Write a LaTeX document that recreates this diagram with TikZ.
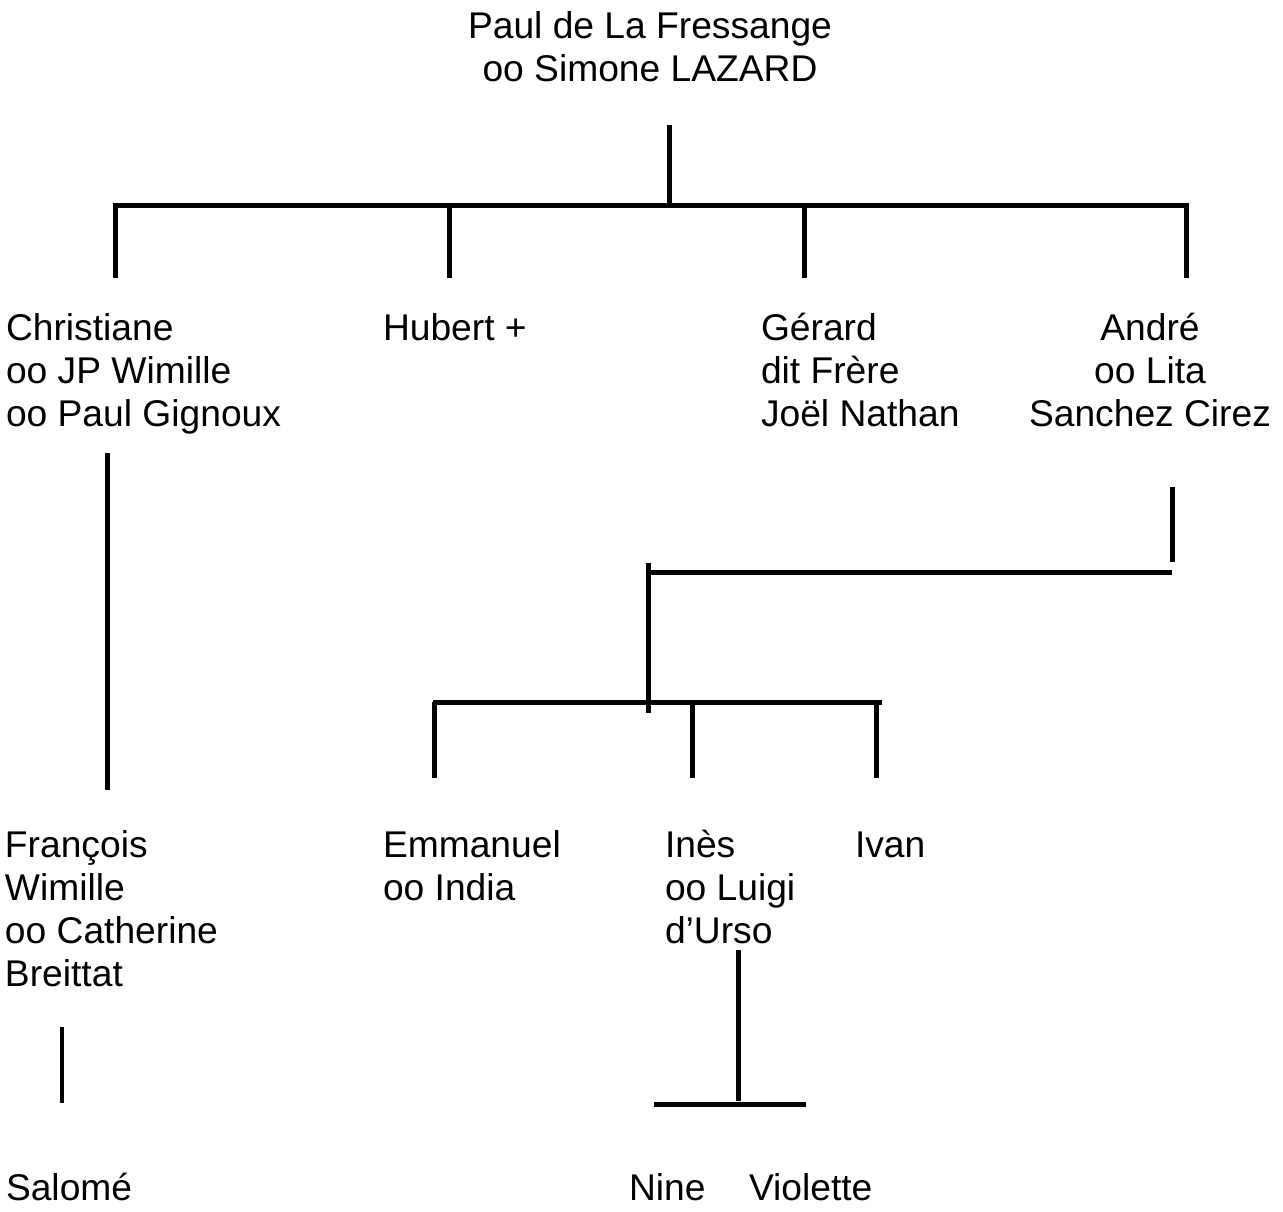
\documentclass[tikz,border=0pt]{standalone}
\usepackage{fontspec}
\setmainfont{Liberation Sans}
\begin{document}
\begin{tikzpicture}[x=1pt,y=-1pt,
  lbl/.style={inner sep=0pt, outer sep=0pt, font=\fontsize{37.2}{43}\selectfont, align=left, anchor=base west},
  clbl/.style={lbl, align=center, anchor=base},
  ln/.style={line width=5pt, line cap=butt, line join=miter}]
\useasboundingbox[fill=white] (0,0) rectangle (1283,1211);

% texts (anchored at the baseline of their last line)
\node[clbl] (root) at (650,81) {Paul de La Fressange\\oo Simone LAZARD};
\node[lbl] (chr) at (6,426) {Christiane\\oo JP Wimille\\oo Paul Gignoux};
\node[lbl] (hub) at (383,340) {Hubert +};
\node[lbl] (ger) at (761,426) {Gérard\\dit Frère\\Joël Nathan};
\node[clbl] (and) at (1150,426) {André\\oo Lita\\Sanchez Cirez};
\node[lbl] (fra) at (5,986) {François\\Wimille\\oo Catherine\\Breittat};
\node[lbl] (emm) at (383,900) {Emmanuel\\oo India};
\node[lbl] (ine) at (665,943) {Inès\\oo Luigi\\d’Urso};
\node[lbl] (iva) at (855,857) {Ivan};
\node[lbl] (sal) at (6,1200) {Salomé};
\node[lbl] (nin) at (629,1200) {Nine};
\node[lbl] (vio) at (749,1200) {Violette};

% junction coordinates
\coordinate (r1) at (669,125);
\coordinate (r2) at (669,205);
\coordinate (b1) at (115.5,278);
\coordinate (b1t) at (115.5,205);
\coordinate (b2t) at (449,205);
\coordinate (b2) at (449,278);
\coordinate (b3t) at (804,205);
\coordinate (b3) at (804,278);
\coordinate (b4t) at (1186,205);
\coordinate (b4) at (1186,278);

\coordinate (c1) at (107,453);
\coordinate (c2) at (107,790);

\coordinate (a1) at (1172,487);
\coordinate (a2) at (1172,562);
\coordinate (h1l) at (648,572);
\coordinate (h1r) at (1172,572);
\coordinate (v1) at (648,563);
\coordinate (v2) at (648,713);
\coordinate (h2l) at (433,702);
\coordinate (h2r) at (882,702);
\coordinate (d1t) at (434,702);
\coordinate (d1) at (434,778);
\coordinate (d2t) at (692,702);
\coordinate (d2) at (692,778);
\coordinate (d3t) at (876,702);
\coordinate (d3) at (876,778);

\coordinate (f1) at (62,1027);
\coordinate (f2) at (62,1103);

\coordinate (i1) at (738,950);
\coordinate (i2) at (738,1101);
\coordinate (h3l) at (654,1104);
\coordinate (h3r) at (806,1104);

% connectors
\draw[ln] (r1) -- (r2);
\draw[ln] (b1) -- (b1t) -- (b4t) -- (b4);
\draw[ln] (b2t) -- (b2);
\draw[ln] (b3t) -- (b3);

\draw[ln] (c1) -- (c2);

\draw[ln] (a1) -- (a2);
\draw[ln] (h1l) -- (h1r);
\draw[ln] (v1) -- (v2);
\draw[ln] (h2l) -- (h2r);
\draw[ln] (d1t) -- (d1);
\draw[ln] (d2t) -- (d2);
\draw[ln] (d3t) -- (d3);

\draw[ln, line width=4.5pt] (f1) -- (f2);

\draw[ln] (i1) -- (i2);
\draw[ln] (h3l) -- (h3r);
\end{tikzpicture}
\end{document}
